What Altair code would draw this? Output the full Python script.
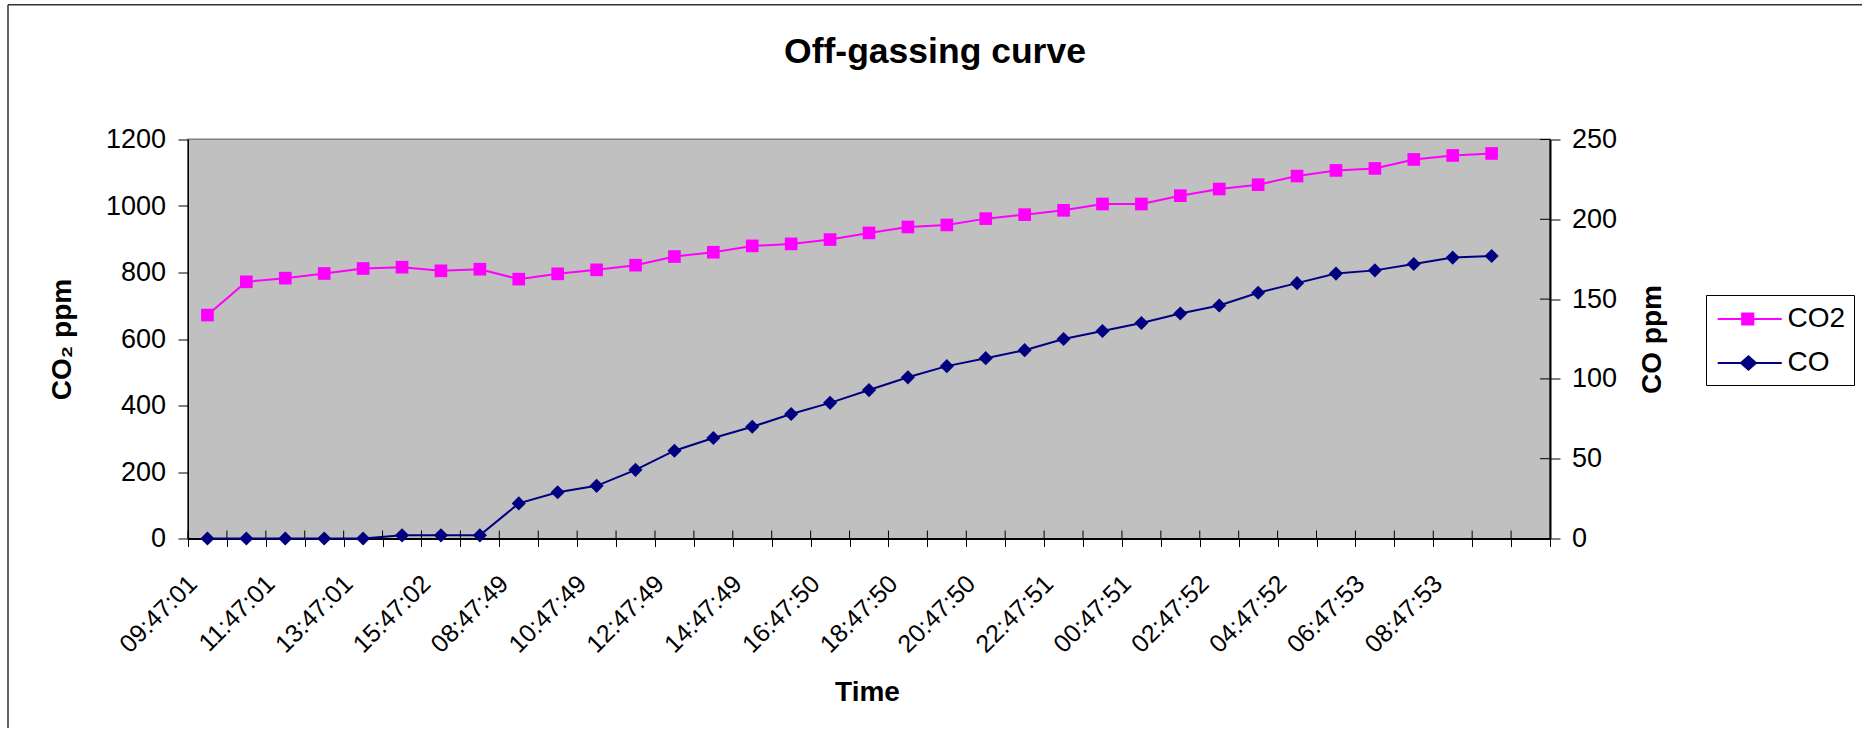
import json

import altair as alt
import pandas as pd

# ---- data -------------------------------------------------------------
times = [
    "09:47:01", "10:47:01", "11:47:01", "12:47:01", "13:47:01", "14:47:01",
    "15:47:02", "16:47:02", "08:47:49", "09:47:49", "10:47:49", "11:47:49",
    "12:47:49", "13:47:49", "14:47:49", "15:47:49", "16:47:50", "17:47:50",
    "18:47:50", "19:47:50", "20:47:50", "21:47:50", "22:47:51", "23:47:51",
    "00:47:51", "01:47:51", "02:47:52", "03:47:52", "04:47:52", "05:47:52",
    "06:47:53", "07:47:53", "08:47:53", "09:47:53",
]
co2_ppm = [
    672, 772, 783, 797, 812, 816, 805, 810, 780, 796, 808, 822,
    848, 861, 880, 886, 899, 919, 937, 943, 962, 974, 987, 1006,
    1006, 1031, 1051, 1064, 1090, 1107, 1113, 1140, 1152, 1158,
]
co_ppm = [
    0, 0, 0, 0, 0, 2, 2, 2, 22, 29, 33, 43,
    55, 63, 70, 78, 85, 93, 101, 108, 113, 118, 125, 130,
    135, 141, 146, 154, 160, 166, 168, 172, 176, 177,
]
# the category axis ends with one empty slot
categories = times + [""]
labelled = categories[0::2]
co2_ticks = [0, 200, 400, 600, 800, 1000, 1200]
co_ticks = [0, 50, 100, 150, 200, 250]
series = ["CO2", "CO"]
series_colors = ["#FF00FF", "#000080"]
heading = ["Off-gassing curve"]

# ---- layout -----------------------------------------------------------
W, H = 1362, 399
LEFT, TOP = 188, 139.5
TOTAL_W, TOTAL_H = 1862, 728
FONT = "Liberation Sans"
PLOT_BG = "#C0C0C0"
BORDER = "#333333"

df = pd.DataFrame({"time": times, "co2": co2_ppm, "co": co_ppm})
cat_df = pd.DataFrame({"time": categories})
co_tick_df = pd.DataFrame({"co": co_ticks})
key_df = pd.DataFrame({"series": series})
head_df = pd.DataFrame({"heading": heading})
one_row = pd.DataFrame({"row": [0]})

x_scale = alt.Scale(type="band", domain=categories, paddingInner=0, paddingOuter=0)
x_axis = alt.Axis(
    title="Time", titleFont=FONT, titleFontSize=28, titleFontWeight="bold",
    titleColor="black", titleX=679, titleY=161.5, titleBaseline="alphabetic",
    titleAlign="center",
    labelAngle=315, labelAlign="right", labelBaseline="middle",
    labelFont=FONT, labelFontSize=25, labelColor="black",
    labelPadding=32.7, labelOffset=-15,
    labelOverlap=False, labelBound=False, labelFlush=False,
    labelExpr="indexof(" + json.dumps(labelled) + ", datum.value) >= 0 ? datum.label : ''",
    tickBand="extent", tickSize=8, tickColor="black", tickWidth=1,
    domainColor="black", domainWidth=2, grid=False,
)


def x_enc(band):
    return alt.X("time:N", scale=x_scale, axis=x_axis, bandPosition=band)


co2_scale = alt.Scale(domain=[0, 1200], nice=False, zero=True)
co2_axis = alt.Axis(
    orient="left", values=co2_ticks, format="d", title="CO₂ ppm",
    titleFont=FONT, titleFontSize=28, titleFontWeight="bold", titleColor="black",
    titleAngle=270, titleBaseline="alphabetic", titleAlign="center",
    titleX=-117.3, titleY=H / 2,
    labelFont=FONT, labelFontSize=27, labelColor="black", labelPadding=12.5,
    tickSize=10, tickColor="black", tickWidth=1,
    domainColor="black", domainWidth=1.5, grid=False,
)
co_scale = alt.Scale(domain=[0, 250], nice=False, zero=True)
co_axis = alt.Axis(
    orient="right", values=co_ticks, format="d", title="CO ppm",
    titleFont=FONT, titleFontSize=28, titleFontWeight="bold", titleColor="black",
    titleAngle=270, titleBaseline="alphabetic", titleAlign="center",
    titleX=110, titleY=H / 2,
    labelFont=FONT, labelFontSize=27, labelColor="black", labelPadding=11.5,
    tickSize=10, tickColor="black", tickWidth=1,
    domainColor="black", domainWidth=2, grid=False,
)

# legend keys: a short line with the series marker on it
key_paths = [
    "M-0.82,0H3.45M0.81,-0.37H1.55V0.37H0.81Z",
    "M-0.82,0H3.45M0.73,0L1.23,-0.45L1.73,0L1.23,0.45Z",
]
key_legend = alt.Legend(
    title=None, orient="none", legendX=1518, legendY=155.5,
    padding=8, symbolSize=900, symbolStrokeWidth=2,
    labelOffset=41.5, rowPadding=14,
    labelFont=FONT, labelFontSize=28, labelColor="black",
    strokeColor="black", fillColor="white", cornerRadius=0,
)

# outer chart border: only its top and left edges fall on the canvas
border_top = alt.Chart(one_row).mark_rule(color=BORDER, strokeWidth=1.5).encode(
    x=alt.value(8 - LEFT), x2=alt.value(TOTAL_W + 20 - LEFT), y=alt.value(4.7 - TOP)
)
border_left = alt.Chart(one_row).mark_rule(color=BORDER, strokeWidth=1.5).encode(
    x=alt.value(8 - LEFT), y=alt.value(4.7 - TOP), y2=alt.value(TOTAL_H + 20 - TOP)
)

plot_bg = alt.Chart(one_row).mark_rect(color=PLOT_BG).encode(
    x=alt.value(1), x2=alt.value(W - 1), y=alt.value(1), y2=alt.value(H - 1)
)

title_text = alt.Chart(head_df).mark_text(
    font=FONT, fontSize=35.5, fontWeight="bold", color="black",
    align="center", baseline="alphabetic",
).encode(x=alt.value(935 - LEFT), y=alt.value(63.3 - TOP), text="heading:N")

x_inner_ticks = alt.Chart(cat_df).mark_rule(color="black", strokeWidth=1).encode(
    x=x_enc(0), y=alt.value(H - 8), y2=alt.value(H)
)

co2_line = alt.Chart(df).mark_line(color=series_colors[0], strokeWidth=2).encode(
    x=x_enc(0.5), y=alt.Y("co2:Q", scale=co2_scale, axis=co2_axis)
)
co2_pts = alt.Chart(df).mark_point(
    shape="square", filled=True, size=160, color=series_colors[0], opacity=1
).encode(x=x_enc(0.5), y=alt.Y("co2:Q", scale=co2_scale, axis=co2_axis))

key = alt.Chart(key_df).transform_filter("false").mark_point(
    filled=True, opacity=1
).encode(
    fill=alt.Fill("series:N", scale=alt.Scale(domain=series, range=series_colors), legend=key_legend),
    stroke=alt.Stroke("series:N", scale=alt.Scale(domain=series, range=series_colors), legend=key_legend),
    shape=alt.Shape("series:N", scale=alt.Scale(domain=series, range=key_paths), legend=key_legend),
)

co_line = alt.Chart(df).mark_line(color=series_colors[1], strokeWidth=2).encode(
    x=x_enc(0.5), y=alt.Y("co:Q", scale=co_scale, axis=co_axis)
)
co_pts = alt.Chart(df).mark_point(
    shape="diamond", filled=True, size=200, color=series_colors[1], opacity=1
).encode(x=x_enc(0.5), y=alt.Y("co:Q", scale=co_scale, axis=co_axis))

y_inner_ticks = alt.Chart(co_tick_df).mark_rule(color="black", strokeWidth=1).encode(
    y=alt.Y("co:Q", scale=co_scale, axis=co_axis), x=alt.value(W - 10), x2=alt.value(W)
)

left = alt.layer(border_top, border_left, plot_bg, title_text, x_inner_ticks,
                 co2_line, co2_pts, key)
right = alt.layer(co_line, co_pts, y_inner_ticks)

chart = (
    alt.layer(left, right)
    .resolve_scale(y="independent")
    .properties(
        width=W, height=H,
        padding={"left": LEFT, "top": TOP,
                 "right": TOTAL_W - LEFT - W, "bottom": TOTAL_H - TOP - H},
        autosize=alt.AutoSizeParams(type="none"),
        background="white",
    )
    .configure_view(stroke="#808080", strokeWidth=2)
)

chart.save("out.html", embed_options={"renderer": "svg", "actions": False})
